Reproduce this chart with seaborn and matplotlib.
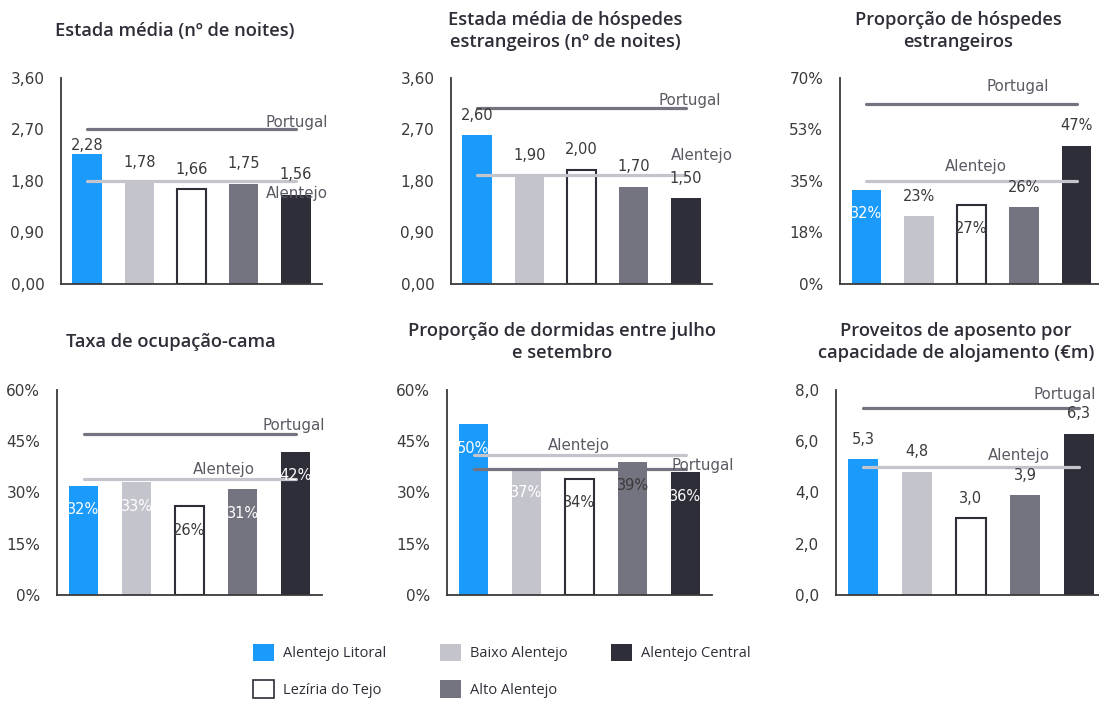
import matplotlib
matplotlib.use("Agg")
import matplotlib.pyplot as plt
import seaborn as sns
import pandas as pd
from matplotlib.patches import Patch

# ---------------- data ----------------
regions = ["Alentejo Litoral", "Baixo Alentejo", "Lezíria do Tejo",
           "Alto Alentejo", "Alentejo Central"]
region_colors = ["#1A9AFA", "#C4C4CD", "#FFFFFF", "#747480", "#2E2E38"]

titles = [
    "Estada média (nº de noites)",
    "Estada média de hóspedes\nestrangeiros (nº de noites)",
    "Proporção de hóspedes\nestrangeiros",
    "Taxa de ocupação-cama",
    "Proporção de dormidas entre julho\ne setembro",
    "Proveitos de aposento por\ncapacidade de alojamento (€m)",
]

estada_media = [2.28, 1.78, 1.66, 1.75, 1.56]
estada_media_portugal = 2.70
estada_media_alentejo = 1.80

estada_estrangeiros = [2.60, 1.90, 2.00, 1.70, 1.50]
estada_estrangeiros_portugal = 3.08
estada_estrangeiros_alentejo = 1.90

prop_estrangeiros = [32, 23, 27, 26, 47]
prop_estrangeiros_portugal = 61
prop_estrangeiros_alentejo = 35

ocupacao_cama = [32, 33, 26, 31, 42]
ocupacao_cama_portugal = 47
ocupacao_cama_alentejo = 34

dormidas_verao = [50, 37, 34, 39, 36]
dormidas_verao_portugal = 37
dormidas_verao_alentejo = 41

proveitos_capacidade = [5.3, 4.8, 3.0, 3.9, 6.3]
proveitos_capacidade_portugal = 7.3
proveitos_capacidade_alentejo = 5.0

ticks_estada = [0, 0.9, 1.8, 2.7, 3.6]
ticklabels_estada = ["0,00", "0,90", "1,80", "2,70", "3,60"]
ticks_prop_estr = [0, 17.5, 35, 52.5, 70]
ticklabels_prop_estr = ["0%", "18%", "35%", "53%", "70%"]
ticks_pct60 = [0, 15, 30, 45, 60]
ticklabels_pct60 = ["0%", "15%", "30%", "45%", "60%"]
ticks_proveitos = [0, 2, 4, 6, 8]
ticklabels_proveitos = ["0,0", "2,0", "4,0", "6,0", "8,0"]

# ---------------- style ----------------
sns.set_theme(style="white")
plt.rcParams["font.family"] = ["DejaVu Sans"]
AXIS_C = "#3a3a3a"
TEXT_C = "#3a3a3a"
REF_PT = "#747480"
REF_AL = "#C4C4CD"
REF_TXT = "#5a5a64"
TITLE_FONT = ["Open Sans", "DejaVu Sans"]

W, H = 1099, 701
fig = plt.figure(figsize=(W / 100, H / 100), dpi=100)
fig.patch.set_facecolor("white")


def fmt_dec2(v):
    return f"{v:.2f}".replace(".", ",")


def fmt_dec1(v):
    return f"{v:.1f}".replace(".", ",")


def fmt_pct(v):
    return f"{v:.0f}%"


# panel boxes in pixels: left, top, right, bottom
panels = [
    dict(box=(61, 78, 322, 284), values=estada_media, pt=estada_media_portugal,
         al=estada_media_alentejo, ticks=ticks_estada, tlabels=ticklabels_estada,
         fmt=fmt_dec2, place=["o", "o", "o", "o", "o"], first_off=5.8,
         pt_lab=(3.41, 5.0), al_lab=(3.43, -8.9), title_xy=(175, 31)),
    dict(box=(451, 78, 712, 284), values=estada_estrangeiros, pt=estada_estrangeiros_portugal,
         al=estada_estrangeiros_alentejo, ticks=ticks_estada, tlabels=ticklabels_estada,
         fmt=fmt_dec2, place=["o", "o", "o", "o", "o"], first_off=None,
         pt_lab=(3.48, 5.5), al_lab=(3.71, 14.2), title_xy=(565, 31)),
    dict(box=(840, 78, 1103, 284), values=prop_estrangeiros, pt=prop_estrangeiros_portugal,
         al=prop_estrangeiros_alentejo, ticks=ticks_prop_estr, tlabels=ticklabels_prop_estr,
         fmt=fmt_pct, place=["i", "o", "i", "o", "o"], first_off=None,
         pt_lab=(2.29, 12.7), al_lab=(1.50, 10.6), title_xy=(958, 31)),
    dict(box=(57, 390, 322, 595), values=ocupacao_cama, pt=ocupacao_cama_portugal,
         al=ocupacao_cama_alentejo, ticks=ticks_pct60, tlabels=ticklabels_pct60,
         fmt=fmt_pct, place=["i", "i", "i", "i", "i"], first_off=None,
         pt_lab=(3.37, 6.5), al_lab=(2.07, 7.0), title_xy=(171, 342)),
    dict(box=(447, 390, 712, 595), values=dormidas_verao, pt=dormidas_verao_portugal,
         al=dormidas_verao_alentejo, ticks=ticks_pct60, tlabels=ticklabels_pct60,
         fmt=fmt_pct, place=["i", "i", "i", "i", "i"], first_off=None, dark_inside=[3],
         pt_lab=(3.73, 2.2), al_lab=(1.41, 6.5), title_xy=(562, 342)),
    dict(box=(836, 390, 1106, 595), values=proveitos_capacidade, pt=proveitos_capacidade_portugal,
         al=proveitos_capacidade_alentejo, ticks=ticks_proveitos, tlabels=ticklabels_proveitos,
         fmt=fmt_dec1, place=["o", "o", "o", "o", "o"], first_off=None,
         pt_lab=(3.15, 9.4), al_lab=(2.31, 7.9), title_xy=(956, 342)),
]

palette = dict(zip(regions, region_colors))

for i, p in enumerate(panels):
    l, t, r, b = p["box"]
    ax = fig.add_axes([l / W, 1 - b / H, (r - l) / W, (b - t) / H])
    df = pd.DataFrame({"regiao": regions, "valor": p["values"]})
    sns.barplot(data=df, x="regiao", y="valor", hue="regiao", palette=palette,
                order=regions, hue_order=regions, width=0.56, saturation=1,
                legend=False, linewidth=0, ax=ax, zorder=2)
    ax.set_xlim(-0.5, len(regions) - 0.5)
    ax.set_ylim(p["ticks"][0], p["ticks"][-1])

    # reference lines (Portugal / Alentejo)
    n = len(regions)
    ax.plot([0, n - 1], [p["al"], p["al"]], color=REF_AL, lw=2.3,
            solid_capstyle="round", zorder=3)
    ax.plot([0, n - 1], [p["pt"], p["pt"]], color=REF_PT, lw=2.3,
            solid_capstyle="round", zorder=3)
    ax.annotate("Portugal", xy=(p["pt_lab"][0], p["pt"]), xytext=(0, p["pt_lab"][1]),
                textcoords="offset points", ha="left", va="center",
                fontsize=10.8, color=REF_TXT, zorder=5, annotation_clip=False)
    ax.annotate("Alentejo", xy=(p["al_lab"][0], p["al"]), xytext=(0, p["al_lab"][1]),
                textcoords="offset points", ha="left", va="center",
                fontsize=10.8, color=REF_TXT, zorder=5, annotation_clip=False)

    # bars: outline the white bar, add value labels
    bars = sorted([pt for pt in ax.patches if pt.get_height() > 0],
                  key=lambda pt: pt.get_x())
    dark_inside = p.get("dark_inside", [])
    for k, bar in enumerate(bars):
        cx = bar.get_x() + bar.get_width() / 2
        h = bar.get_height()
        if region_colors[k] == "#FFFFFF":
            bar.set_edgecolor("#2E2E38")
            bar.set_linewidth(1.5)
        if p["place"][k] == "o":
            off = p["first_off"] if (k == 0 and p["first_off"] is not None) else 14.4
            col = TEXT_C
        else:
            off = -17.3
            col = "white" if (region_colors[k] != "#FFFFFF" and k not in dark_inside) else TEXT_C
        ax.annotate(p["fmt"](h), xy=(cx, h), xytext=(0, off), textcoords="offset points",
                    ha="center", va="center", fontsize=10.5, color=col, zorder=6,
                    annotation_clip=False)

    # axes styling
    ax.set_xlabel("")
    ax.set_ylabel("")
    for s in ("top", "right"):
        ax.spines[s].set_visible(False)
    for s in ("left", "bottom"):
        ax.spines[s].set_color(AXIS_C)
        ax.spines[s].set_linewidth(1.3)
    ax.set_xticks([x - 0.5 for x in range(n + 1)])
    ax.set_xticklabels([])
    ax.set_yticks(p["ticks"])
    ax.set_yticklabels(p["tlabels"])
    ax.tick_params(axis="x", direction="out", length=5, width=1.2, color=AXIS_C)
    ax.tick_params(axis="y", direction="out", length=4, width=1.2, color=AXIS_C,
                   labelsize=11, labelcolor=TEXT_C, pad=8)
    ax.set_facecolor("white")
    ax.grid(False)

    fig.text(p["title_xy"][0] / W, 1 - p["title_xy"][1] / H, titles[i],
             ha="center", va="center", fontsize=13.2, fontweight="semibold",
             family=TITLE_FONT, color="#2E2E38", linespacing=1.22)

# legend: three columns of entries
def region_handle(name):
    c = palette[name]
    if c == "#FFFFFF":
        return Patch(facecolor=c, edgecolor="#2E2E38", linewidth=1.2, label=name)
    return Patch(facecolor=c, edgecolor="none", label=name)


legend_columns = [
    (253, ["Alentejo Litoral", "Lezíria do Tejo"]),
    (440, ["Baixo Alentejo", "Alto Alentejo"]),
    (611, ["Alentejo Central"]),
]
for x_px, names in legend_columns:
    fig.legend(handles=[region_handle(nm) for nm in names], loc="upper left",
               bbox_to_anchor=(x_px / W, 1 - 644 / H), frameon=False,
               ncol=1, borderpad=0, borderaxespad=0, handlelength=1.44,
               handleheight=1.44, handletextpad=0.65, labelspacing=1.3,
               prop={"family": TITLE_FONT, "size": 10.5}, labelcolor="#2E2E38")

fig.savefig("out.png", dpi=100, facecolor="white")
